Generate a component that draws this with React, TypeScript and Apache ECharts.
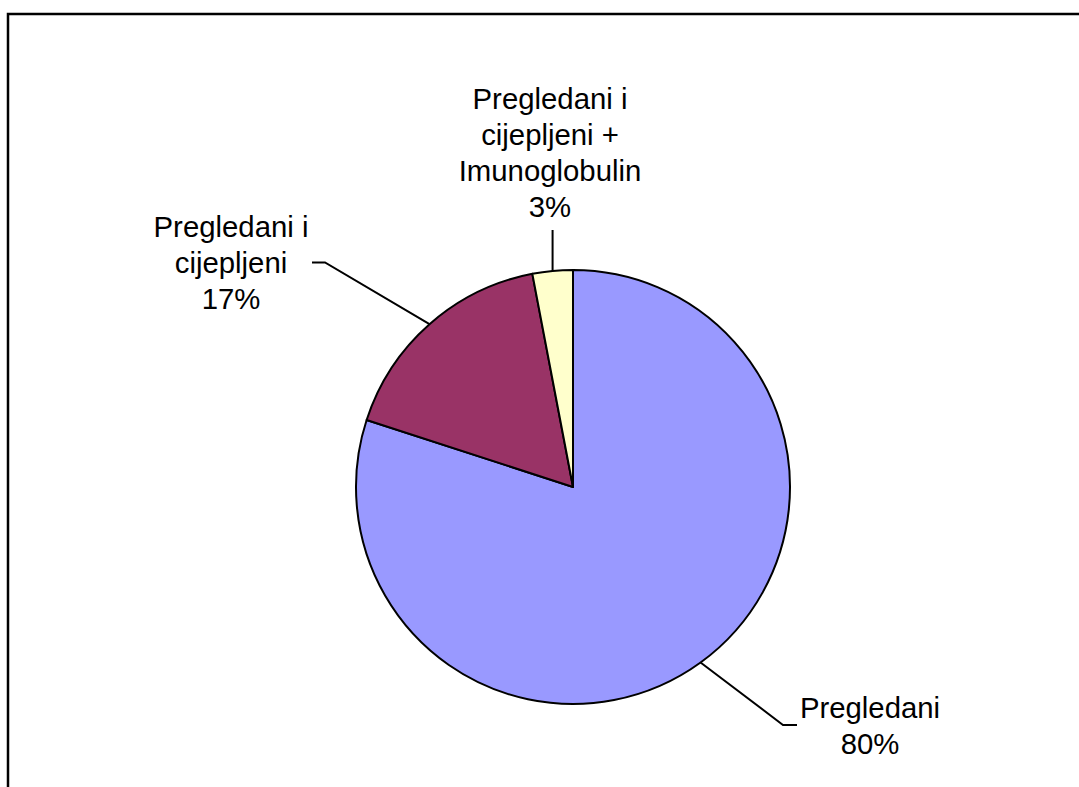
import React, { useEffect, useRef } from 'react';
import * as echarts from 'echarts';

const categories = [
  'Pregledani',
  'Pregledani i\ncijepljeni',
  'Pregledani i\ncijepljeni +\nImunoglobulin',
];
const values = [80, 17, 3];
const colors = ['#9999FF', '#993366', '#FFFFCC'];

// label placement (pixels): text block centre and leader-line bend/end points
const labelPlacement = [
  { x: 870, y: 725.5, bend: [783, 725], end: [797, 725] },
  { x: 231, y: 262, bend: [325, 262.5], end: [312, 262.5] },
  { x: 550, y: 152.5, bend: null, end: null },
];

export default function App() {
  const ref = useRef<HTMLDivElement>(null);
  useEffect(() => {
    if (!ref.current) return;
    const chart = echarts.init(ref.current, null, { renderer: 'svg' });
    chart.setOption({
      animation: false,
      backgroundColor: '#ffffff',
      graphic: [
        {
          type: 'rect',
          shape: { x: 8, y: 14, width: 1300, height: 1000 },
          style: { fill: 'none', stroke: '#000000', lineWidth: 2.5 },
          silent: true,
        },
      ],
      series: [
        {
          type: 'pie',
          center: [573, 487],
          radius: 217,
          startAngle: 90,
          clockwise: true,
          avoidLabelOverlap: false,
          itemStyle: { borderColor: '#000000', borderWidth: 2 },
          label: {
            show: true,
            position: 'outside',
            formatter: '{b}\n{d}%',
            fontFamily: 'Liberation Sans, Arial, sans-serif',
            fontSize: 29.33,
            lineHeight: 36,
            color: '#000000',
            align: 'center',
          },
          labelLine: {
            show: true,
            length: 20,
            length2: 20,
            lineStyle: { color: '#000000', width: 2 },
          },
          labelLayout: (params: any) => {
            const p = labelPlacement[params.dataIndex];
            const edge = params.labelLinePoints ? params.labelLinePoints[0] : [0, 0];
            let pts;
            if (p.bend && p.end) {
              pts = [edge, p.bend, p.end];
            } else {
              pts = [edge, [edge[0], (edge[1] + 230) / 2], [edge[0], 230]];
            }
            return {
              x: p.x,
              y: p.y,
              align: 'center',
              verticalAlign: 'middle',
              hideOverlap: false,
              moveOverlap: null,
              labelLinePoints: pts,
            };
          },
          data: categories.map((name, i) => ({
            name,
            value: values[i],
            itemStyle: { color: colors[i] },
          })),
        },
      ],
    });
    return () => chart.dispose();
  }, []);
  return (
    <div
      ref={ref}
      style={{ position: 'absolute', left: 0, top: 0, width: 1079, height: 787 }}
    />
  );
}
